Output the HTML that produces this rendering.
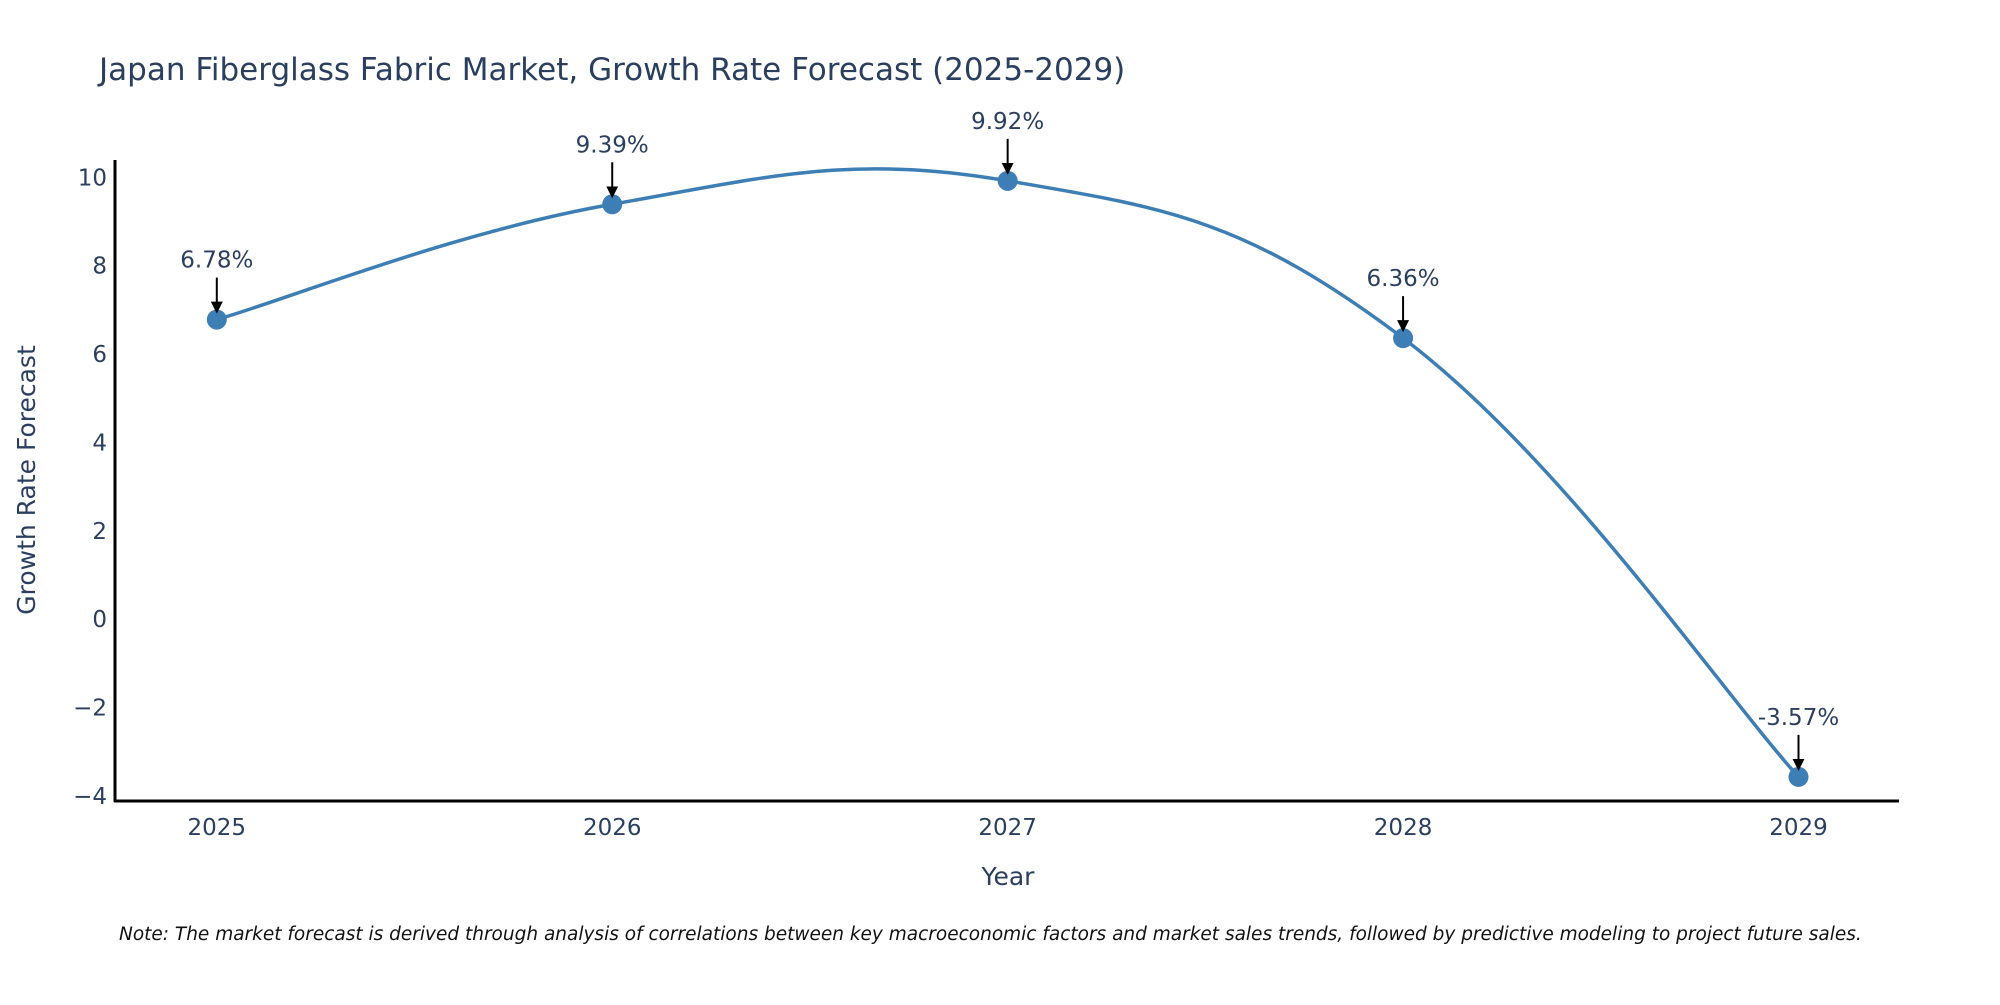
<!DOCTYPE html>
<html><head><meta charset="utf-8"><style>
body{margin:0;background:#fff;}
svg text{font-family:"DejaVu Sans","Liberation Sans",sans-serif;fill:#2a3f5f;}
</style></head><body>
<svg width="2000" height="1000" xmlns="http://www.w3.org/2000/svg" id="chart">
<defs><marker id="ah" markerWidth="6" markerHeight="6" refX="5" refY="3" orient="auto" markerUnits="strokeWidth"><path d="M0,0 L6,3 L0,6 z" fill="#000"/></marker></defs>
<text x="99" y="80" font-size="31">Japan Fiberglass Fabric Market, Growth Rate Forecast (2025-2029)</text>
<g id="yticks"></g><g id="xticks"></g>
<line x1="115" y1="160" x2="115" y2="802" stroke="#000" stroke-width="3"/>
<line x1="114" y1="801" x2="1899" y2="801" stroke="#000" stroke-width="3"/>
<path id="line" fill="none" stroke="#3d7fb5" stroke-width="3.5"/>
<g id="pts"></g>
<text x="0" y="0" transform="translate(35,480) rotate(-90)" text-anchor="middle" font-size="25">Growth Rate Forecast</text>
<text x="1008" y="885" text-anchor="middle" font-size="25">Year</text>
<text x="119" y="940" font-size="18.5" font-style="italic" style="fill:#111">Note: The market forecast is derived through analysis of correlations between key macroeconomic factors and market sales trends, followed by predictive modeling to project future sales.</text>
</svg>
<script>
const years=[2025,2026,2027,2028,2029];
const values=[6.78,9.39,9.92,6.36,-3.57];
const labels=["6.78%","9.39%","9.92%","6.36%","-3.57%"];
const yTicks=[10,8,6,4,2,0,-2,-4];
const yTickLabels=["10","8","6","4","2","0","\u22122","\u22124"];
const NS="http://www.w3.org/2000/svg";
const xs=y=>216.8+(y-2025)*(1798.5-216.8)/4;
const ys=v=>177.3+(10-v)*(795.9-177.3)/14;
function mk(t,a,p){const e=document.createElementNS(NS,t);for(const k in a)e.setAttribute(k,a[k]);p.appendChild(e);return e;}
const yt=document.getElementById('yticks');
yTicks.forEach((v,i)=>{const t=mk('text',{x:107,y:ys(v)+8,'text-anchor':'end','font-size':23},yt);t.textContent=yTickLabels[i];

});
const xt=document.getElementById('xticks');
years.forEach(y=>{const t=mk('text',{x:xs(y),y:835,'text-anchor':'middle','font-size':23},xt);t.textContent=y;

});
const P=years.map((y,i)=>[xs(y),ys(values[i])]);
let d=`M${P[0][0]},${P[0][1]}`;const k=0.2;
for(let i=0;i<P.length-1;i++){const p0=P[Math.max(0,i-1)],p1=P[i],p2=P[i+1],p3=P[Math.min(P.length-1,i+2)];
const c1=[p1[0]+(p2[0]-p0[0])*k,p1[1]+(p2[1]-p0[1])*k],c2=[p2[0]-(p3[0]-p1[0])*k,p2[1]-(p3[1]-p1[1])*k];
d+=` C${c1[0]},${c1[1]} ${c2[0]},${c2[1]} ${p2[0]},${p2[1]}`;}
document.getElementById('line').setAttribute('d',d);
const g=document.getElementById('pts');
P.forEach((p,i)=>{const c=mk('circle',{cx:p[0],cy:p[1],r:10,fill:'#3d7fb5'},g);


const a=mk('line',{x1:p[0],y1:p[1]-42,x2:p[0],y2:p[1]-8,stroke:'#000','stroke-width':2,'marker-end':'url(#ah)'},g);


const t=mk('text',{x:p[0],y:p[1]-52,'text-anchor':'middle','font-size':23},g);t.textContent=labels[i];

});
</script>
</body></html>
